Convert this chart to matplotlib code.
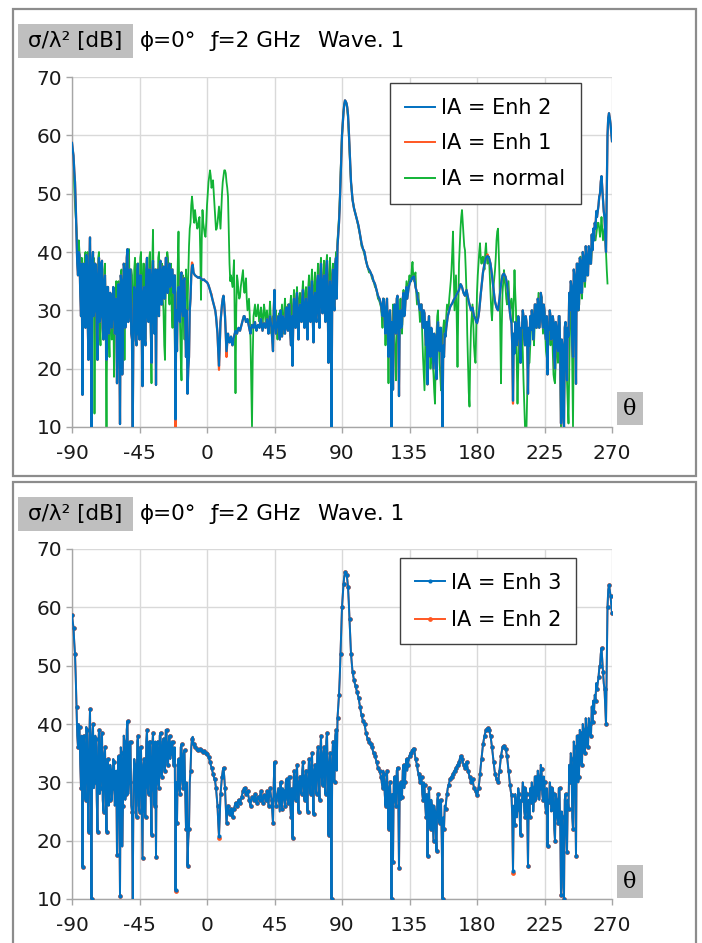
import numpy as np
import matplotlib
matplotlib.use('Agg')
import matplotlib.pyplot as plt
from matplotlib.patches import Rectangle

# angles, half a degree apart
theta = np.arange(-90, 270.5, 0.5)

# IA = Enh 2; each row covers 10 degrees
enh2 = [
    58.7, 57.5, 56.5, 54, 52, 48, 43, 38, 36, 40, 39.5, 33, 29, 38, 15.5, 37, 38, 30, 27, 39.5,       # -90
    39, 28, 21.5, 37, 42.5, 30, 10, 38, 40, 29, 30, 38, 37.5, 27, 21.5, 36, 39, 28, 29, 38,            # -80
    38.5, 27, 25, 35, 36, 28, 21.5, 34, 34, 26, 27, 33, 32, 27, 29, 34, 33.5, 26, 27, 32,              # -70
    17.5, 30, 34.5, 27, 10.5, 36, 35, 19, 26, 38, 37, 27, 28, 39, 40.5, 28, 30, 37, 37, 26,            # -60
    25, 10, 30, 34, 33, 25, 24, 37, 38, 26, 25, 36, 36, 27, 17, 33, 34, 25, 24, 37,                    # -50
    39, 29, 28, 37, 37, 28, 21, 36, 38.5, 29, 26, 37, 17.2, 36, 37, 30, 29, 38, 38.5, 31,              # -40
    31, 37, 37.5, 32, 32, 39, 39, 33, 33, 37, 38, 34, 35, 37, 37, 33, 33, 36, 11.3, 30,                # -30
    23, 33, 34, 29, 28, 36, 36.5, 30, 29, 35, 35.5, 28, 22, 30, 15.7, 20, 22, 30, 32, 36,              # -20
    37.5, 37.8, 36.5, 36.2, 36, 35.9, 35.8, 35.7, 35.6, 35.6, 35.7, 35.6, 35.5, 35.3, 35.2, 35.2, 35.3, 35.1, 35, 34.9,  # -10
    34.8, 34.6, 34.3, 33.9, 33.5, 33, 32.5, 32, 31.5, 31, 30.5, 30, 29, 27.5, 26, 23, 20.5, 24, 28, 29.5,              # 0
    31, 32, 32.5, 31, 29, 26, 23, 24.5, 26, 25, 24.5, 25, 25.5, 24.5, 24, 25, 25.5, 26, 26.5, 26.2,    # 10
    26, 26.5, 27, 26.8, 26.5, 27, 27.5, 28, 28.5, 29, 29, 28.5, 28, 28.3, 28.5, 27.8, 27, 26.5, 26, 27,                 # 20
    27.5, 27.2, 27, 27.6, 28, 27, 26.5, 27.2, 27.5, 27.3, 27, 28, 28.5, 27.5, 26.5, 27.2, 27.8, 27.4, 27, 27.8,         # 30
    28.5, 27.2, 26, 28, 29, 28, 27, 25, 23, 30, 33.5, 28, 26, 27, 28, 29, 27, 25, 30, 28,              # 40
    25.5, 29, 28.5, 27, 26, 30, 30.5, 27, 26.5, 31, 31, 26, 24, 29, 20.5, 28, 32, 29, 27, 31,          # 50
    33, 28, 25, 30, 31, 29, 28, 32, 33.5, 29, 27, 31, 32, 28, 25, 31, 34, 30, 28, 33,                  # 60
    35, 29, 24.5, 32, 33, 29, 28, 35, 36, 30, 27, 35, 38, 31, 29.5, 35, 36, 30, 28, 37,                # 70
    38.5, 31, 21, 33, 35, 30, 10, 34, 37, 31, 30, 38, 39, 32, 41, 43, 45, 48, 52, 56,                  # 80
    60, 62, 64, 65.3, 66, 65.8, 65.5, 64.8, 63.5, 61, 58, 55, 52, 50.5, 49, 48.2, 47.5, 47, 46.5, 46,  # 90
    45.5, 45, 44.5, 43.8, 43, 42.2, 41.5, 41, 40.5, 40.3, 40, 39.2, 38.5, 38, 37.5, 37.2, 37, 36.8, 36.5, 36.2,      # 100
    36, 35.5, 35, 34.8, 34.5, 34, 33.5, 33, 32.5, 32.2, 32, 31.5, 31, 30, 29, 32, 31.5, 28, 26, 30,    # 110
    32, 27, 22, 29, 30, 26, 10, 28, 16.4, 30, 31, 27, 26, 32, 32.5, 28, 15.3, 29, 30, 27,              # 120
    27.5, 32, 33, 29, 30, 33, 34, 32, 33, 34, 34.5, 35, 35, 35.5, 35.5, 35.8, 35.8, 35, 34, 33.5,      # 130
    33, 32, 31.5, 30.5, 30, 31, 31, 28, 27, 30, 29.5, 26, 24, 28, 17.3, 27, 29, 25, 22, 27,            # 140
    26, 23, 20, 26, 25, 22, 18.2, 27, 28, 24, 23, 27, 27, 20, 10, 24, 22, 26, 25.5, 27,                # 150
    28, 29, 29.5, 30, 30.5, 30.8, 31, 31.2, 31.5, 31.8, 32, 32.2, 32.5, 32.8, 33, 33.2, 33.5, 34, 34.5, 34.3,        # 160
    34, 33.5, 33, 32.7, 32.5, 33, 33.5, 32.8, 32, 31.5, 31, 30.5, 30, 30.3, 30.5, 29.8, 29, 28.8, 28.5, 28,          # 170
    27.8, 28.3, 29, 30, 31.5, 32.8, 34, 35.3, 36.5, 37.3, 38, 38.5, 39, 39.2, 39.3, 39.2, 39, 38.5, 38, 37,          # 180
    36, 34.8, 33.5, 32.5, 31.5, 31, 30.5, 30.2, 30, 31, 32, 33.3, 34.5, 35.3, 36, 36.2, 36.3, 36, 35.8, 35.2,        # 190
    34.5, 33.3, 32, 30.8, 29.5, 28.5, 27.8, 24, 14.5, 26, 22.6, 28, 27, 24, 25.5, 29, 28, 24, 21, 27,  # 200
    27, 30, 29, 25, 24, 29, 28, 24, 15.7, 27, 24, 29, 26.6, 30, 29, 25, 27, 31, 31, 27,                # 210
    28, 32, 31, 27, 29, 33, 32.3, 28, 27, 31, 30, 26, 25, 29, 19, 27, 26.6, 30, 29, 25,                # 220
    25.5, 29, 28, 22, 20, 28, 27, 24, 23, 29, 29, 22, 10.6, 25, 24, 12, 10, 27, 28, 22,                # 230
    18, 27, 25.5, 33, 30, 35, 34, 24, 22, 37, 36, 28, 17.4, 38, 38, 30, 31, 39, 38.5, 33,              # 240
    33, 40, 39, 35, 35, 41, 39.2, 36, 36, 41, 40, 38, 38, 43, 40.3, 44, 42, 45, 44, 47,                # 250
    46, 47, 48, 49.5, 50, 52, 53, 51, 49, 47, 46, 43, 40, 50, 60, 63, 63.8, 63, 62, 60.5,              # 260
    59,                                                                                                 # 270
]

NA = float('nan')

# IA = normal
normal = [
    58, 56.5, 55, 51, 48, 46, 44, 41, 38, 42, 40, 35, 31, 39, 37, 31, 28, 39, 40, 32,                  # -90
    30, 40, 39, 29, 27, 37, 38, 33, 31, 39, 12.3, 33, 37, 28, 29, 39, 40, 27, 24, 35,                  # -80
    36, 29, 28, 37, 38, 25, 10, 30, 33, 26, 22, 32, 31, 25, 26, 33, 18.6, 29, 33, 35,                  # -70
    28, 33, 35, 28, 26, 36, 37, 30, 29, 36, 21.5, 34, 38, 31, 30, 39, 40.5, 32, 31, 37,                # -60
    36, 28, 26, 37, 39, 31, 30, 38, 37, 28, 27, 39, 40, 31, 29, 38, 38, 27, 25, 35,                    # -50
    36, 31, 30, 39, 40, 26, 17.5, 38, 43.8, 32, 28, 36, 37, 30, 29, 39, 40, 34, 33, 37,                # -40
    38, 32, 30, 24, 21.5, 34, 36, 40, 39, 33, 31, 37, 38, 30, 27, 34, 35, 25, 12.9, 26,                # -30
    30, 38, 43.5, 33, 28, 22, 18, 31, 36, 30, 25, 33, 37, 34, 30, 36, 41, 44, 45, 48,                  # -20
    49.5, 48, 46, 45, 47.2, 46, 45, 44, 44.3, 45.5, 46, 40, 31.8, 42, 47.2, 45, 44, 43, 42.6, 45,      # -10
    48, 50, 52, 53, 54, 53, 51, 51.5, 52.3, 50, 48, 46, 43.8, 44, 45, 46.5, 47.8, 46, 44, 47,          # 0
    50, 52, 53, 54, 54, 53.5, 52, 51, 49.5, 44, 38, 35, 36, 35, 34, 36, 38.6, 28, 15.8, 30,            # 10
    36, 35, 33, 32, 32.3, 34, 35, 36, 36.9, 34, 33, 34.5, 35.5, 32, 30, 31, 32, 29, 25, 18,            # 20
    10, 22, 29, 30, 31, 29, 29, 30, 31, 29, 28, 29.5, 30.5, 29, 27.5, 29, 31, 30, 28, 29,              # 30
    30, 28, 27, 29, 31.5, 29, 26, 28, 29, 28, 27, 29, 30, 27, 25, 28, 29.5, 28, 27, 29,                # 40
    31, 28, 26, 30, 32, 29, 27.5, 30, 31, 29, 28, 31, 32.5, 29, 27, 31, 33.5, 30, 28, 32,              # 50
    34, 31, 29, 32, 33, 30, 28, 33, 35, 31, 30, 33, 34, 30, 29, 34, 36, 32, 30, 35,                    # 60
    37, 33, 31, 34, 36.5, 31, 29, 35, 38, 33, 32, 37, 39, 34, 31, 36, 38.5, 35, 33, 38,                # 70
    39.5, 34, 30, 36, 39, 35, 32, 36, 38, 33, 30.5, 37, 40, 38, 42, 44, 46, 49, 53, 57,                # 80
    60, 62, 64, 65.2, 65.8, 65.6, 65.3, 64.5, 63, 60.5, 57.5, 54.5, 52, 50.5, 49, 48.2, 47.5, 47, 46.5, 46,       # 90
    45.5, 44.8, 44, 43.5, 43, 42, 41, 40.8, 40.5, 40, 39.5, 39, 38.5, 38, 37.5, 37, 36.5, 36.5, 36.5, 36,         # 100
    35.5, 35.2, 35, 34.5, 34, 33.8, 33.5, 32.8, 32, 31.8, 31.5, 31, 30.5, 29, 27, 30, 32, 28, 24, 28,  # 110
    31, 25, 17.5, 26, 29, 24, 20, 27, 31, 28, 25, 22, 18, 27, 30, 26, 24, 29, 32, 28,                  # 120
    26, 30, 33.5, 31, 30, 33, 35, 34, 33, 35, 36, 35, 35, 37, 38.3, 36, 35, 36, 36.5, 33,              # 130
    31, 32, 33, 30, 28, 30, 31, 26, 22, 19, 16.3, 24, 27, 24, 21, 26, 29, 24, 20, 23,                  # 140
    25, 21, 19, 16, 14, 22, 26, 29, 30, 25, 21, 19, 16.3, 21, 24, 27, 28.3, 27, 26, 29,                # 150
    31, 30.5, 30, 32, 33.5, 35, 37, 40, 43.5, 37, 30, 33, 36, 28, 20.3, 30, 38, 41, 44, 46,            # 160
    47.2, 45, 43, 41, 40.3, 37, 33, 26, 21, 16, 13.5, 22, 27, 29, 31, 28, 24, 22, 21, 27,              # 170
    33, 36, 38, 40, 41.5, 39, 38, 39, 39.2, 38, 37, 40, 41.5, 39, 38, 38.5, 39.2, 36, 33, 30,          # 180
    28.3, 31, 34, 35.5, 36.9, 39, 42, 43.5, 44, 40, 35.8, 26, 17.5, 27, 33, 35, 36.9, 35, 34, 32,      # 190
    31, 33, 35, 32, 30, 31, 32, 30, 28, 32, 36.9, 33, 30, 21, 14, 20, 25, 23, 22, 25,                  # 200
    27, 23, 18, 14, 10, 10, 10, 16, 20, 21, 21, 24, 27, 29, 30, 27, 24, 28, 31, 29,                    # 210
    27, 30, 33, 31, 29, 31, 32.3, 29, 26, 28, 30, 26, 23, 22, 21, 25, 28, 26, 24, 26,                  # 220
    27, 23, 19, 18, 17.5, 22, 26, 23, 21, 25, 28, 19, 10, 16, 20, 17, 14, 20, 25, 22,                  # 230
    18, 14, 10.6, 20, 27, 29, 31, 20, 10, 25, 34, 31, 28, 33, 37, 33, 30, 35, 39.2, 35,                # 240
    32, 36, 38, 36, 34, 37, 38, 36, 37, 39, 40, 39, 38, 40, 41, 42, 43.2, 42, 42, 43,                  # 250
    44, 45, 45, 44, 42.6, 44, 46, 44, 42, 43, 44, 42, 40, 37, 34.6, NA, NA, NA, NA, NA,                # 260
    NA,                                                                                                 # 270
]

# Enh 1 (top) and Enh 3 (bottom) lie on Enh 2 except at these angles
enh1_diff = {-21: 10.0, -10: 38.2, 3: 32.8, 8: 19.8, 13: 22.0, 187: 39.6, 204: 14.0}
enh3_diff = {-21: 11.5, 8: 20.8, 204: 14.8}

assert len(enh2) == len(theta), len(enh2)
assert len(normal) == len(theta), len(normal)

enh1 = list(enh2)
for k, v in enh1_diff.items():
    enh1[int((k + 90) * 2)] = v
enh3 = list(enh2)
for k, v in enh3_diff.items():
    enh3[int((k + 90) * 2)] = v

xticks = [-90, -45, 0, 45, 90, 135, 180, 225, 270]
yticks = [10, 20, 30, 40, 50, 60, 70]

BLUE = '#0070c0'
ORANGE = '#ff5722'
GREEN = '#12b336'
BOXGRAY = '#bfbfbf'

W, H = 702, 943
plt.rcParams['font.family'] = ['DejaVu Sans']
plt.rcParams['axes.unicode_minus'] = False
fig = plt.figure(figsize=(W / 100, H / 100), dpi=100)


def fx(px):
    return px / W


def fy(py):
    return 1 - py / H


def style_axes(ax):
    ax.set_xlim(-90, 270)
    ax.set_ylim(10, 70)
    ax.set_xticks(xticks)
    ax.set_yticks(yticks)
    ax.grid(True, color='#d9d9d9', lw=1)
    ax.set_axisbelow(True)
    for s in ['top', 'right']:
        ax.spines[s].set_visible(False)
    for s in ['left', 'bottom']:
        ax.spines[s].set_color('#a6a6a6')
        ax.spines[s].set_linewidth(1)
    ax.tick_params(axis='both', colors='#a6a6a6', labelcolor='#1a1a1a',
                   labelsize=14.5, length=4, width=1)
    ax.tick_params(axis='x', pad=8)
    ax.tick_params(axis='y', pad=3)


def panel_header(top_px, box_bottom_px, theta_top_px):
    # frame around the panel
    fig.patches.append(Rectangle((fx(13), fy(box_bottom_px)), fx(683),
                                 (box_bottom_px - top_px) / H, fill=False,
                                 edgecolor='#8c8c8c', lw=1.6,
                                 transform=fig.transFigure))
    # title line
    yt = top_px + 32
    fig.patches.append(Rectangle((fx(18), fy(yt + 17)), fx(115), 34 / H,
                                 facecolor=BOXGRAY, edgecolor='none',
                                 transform=fig.transFigure))
    fig.text(fx(75.5), fy(yt), 'σ/λ² [dB]', fontsize=15.5,
             ha='center', va='center')
    fig.text(fx(140), fy(yt), 'ϕ=0°', fontsize=15.5, va='center')
    fig.text(fx(210), fy(yt), 'ƒ=2 GHz', fontsize=15.5, va='center')
    fig.text(fx(318), fy(yt), 'Wave. 1', fontsize=15.5, va='center')
    # theta label box
    fig.patches.append(Rectangle((fx(617), fy(theta_top_px + 33)), fx(26),
                                 33 / H, facecolor=BOXGRAY, edgecolor='none',
                                 transform=fig.transFigure))
    fig.text(fx(630), fy(theta_top_px + 16.5), 'θ', fontsize=16,
             family='DejaVu Serif', ha='center', va='center')


# ---- top panel ----
panel_header(9, 476, 392)
ax1 = fig.add_axes([fx(72), fy(427), fx(540), 350 / H])
style_axes(ax1)
l_norm, = ax1.plot(theta, normal, color=GREEN, lw=1.3, zorder=2)
l_e1, = ax1.plot(theta, enh1, color=ORANGE, lw=1.6, zorder=3)
l_e2, = ax1.plot(theta, enh2, color=BLUE, lw=1.6, zorder=4)
leg1 = ax1.legend([l_e2, l_e1, l_norm],
                  ['IA = Enh 2', 'IA = Enh 1', 'IA = normal'],
                  loc='upper left', bbox_to_anchor=((390 - 72) / 540, 1 - 6 / 350),
                  borderaxespad=0, fontsize=15, frameon=True, fancybox=False,
                  edgecolor='#404040', framealpha=1, handlelength=1.45,
                  handletextpad=0.3, borderpad=0.72, labelspacing=0.74)
leg1.get_frame().set_linewidth(1)
for ln in leg1.get_lines():
    ln.set_linewidth(1.4)

# ---- bottom panel ----
panel_header(482, 960, 865)
ax2 = fig.add_axes([fx(72), fy(899), fx(540), 350 / H])
style_axes(ax2)
m_e2, = ax2.plot(theta, enh2, color=ORANGE, lw=1.4, marker='o', ms=2.4,
                 markevery=2, zorder=3)
m_e3, = ax2.plot(theta, enh3, color=BLUE, lw=1.4, marker='o', ms=2.0,
                 markevery=2, zorder=4)
leg2 = ax2.legend([m_e3, m_e2], ['IA = Enh 3', 'IA = Enh 2'],
                  loc='upper left', bbox_to_anchor=((400 - 72) / 540, 1 - 9 / 350),
                  borderaxespad=0, fontsize=15, frameon=True, fancybox=False,
                  edgecolor='#404040', framealpha=1, handlelength=1.45,
                  handletextpad=0.3, borderpad=0.7, labelspacing=0.83)
leg2.get_frame().set_linewidth(1)

fig.savefig('out.png', dpi=100)
